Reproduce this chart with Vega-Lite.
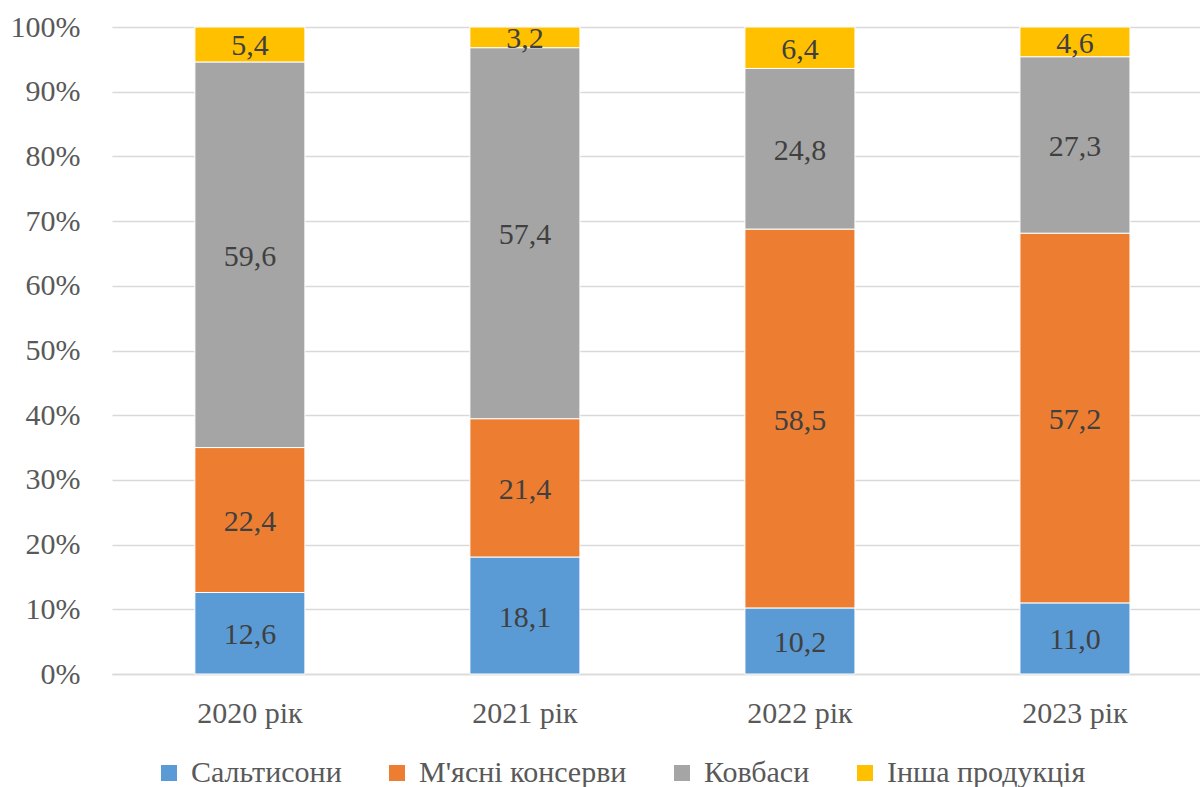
{
  "$schema": "https://vega.github.io/schema/vega-lite/v6.json",
  "autosize": "none",
  "width": 1088,
  "height": 647,
  "padding": {"left": 112, "top": 27, "right": 0, "bottom": 113},
  "background": "white",
  "config": {
    "locale": {"number": {"decimal": ",", "thousands": " ", "grouping": [3], "currency": ["", ""]}},
    "font": "'Liberation Serif', 'Times New Roman', 'DejaVu Serif', serif",
    "view": {"stroke": null},
    "axis": {"labelFont": "'Liberation Serif', 'Times New Roman', 'DejaVu Serif', serif", "labelColor": "#595959", "labelFontSize": 30, "ticks": false, "title": null, "labelOverlap": false}
  },
  "data": {
    "values": [
      {"year": "2020 рік", "series": "Сальтисони", "value": 12.6},
      {"year": "2020 рік", "series": "М'ясні консерви", "value": 22.4},
      {"year": "2020 рік", "series": "Ковбаси", "value": 59.6},
      {"year": "2020 рік", "series": "Інша продукція", "value": 5.4},
      {"year": "2021 рік", "series": "Сальтисони", "value": 18.1},
      {"year": "2021 рік", "series": "М'ясні консерви", "value": 21.4},
      {"year": "2021 рік", "series": "Ковбаси", "value": 57.4},
      {"year": "2021 рік", "series": "Інша продукція", "value": 3.2},
      {"year": "2022 рік", "series": "Сальтисони", "value": 10.2},
      {"year": "2022 рік", "series": "М'ясні консерви", "value": 58.5},
      {"year": "2022 рік", "series": "Ковбаси", "value": 24.8},
      {"year": "2022 рік", "series": "Інша продукція", "value": 6.4},
      {"year": "2023 рік", "series": "Сальтисони", "value": 11.0},
      {"year": "2023 рік", "series": "М'ясні консерви", "value": 57.2},
      {"year": "2023 рік", "series": "Ковбаси", "value": 27.3},
      {"year": "2023 рік", "series": "Інша продукція", "value": 4.6}
    ]
  },
  "encoding": {
    "x": {
      "field": "year", "type": "nominal", "sort": null,
      "scale": {"paddingInner": 0.6, "paddingOuter": 0.278, "align": 0.542},
      "axis": {"labelAngle": 0, "labelPadding": 24, "domain": true, "domainColor": "#d9d9d9", "domainWidth": 1.5, "grid": false}
    },
    "order": {"field": "series", "sort": "descending"}
  },
  "layer": [
    {
      "mark": {"type": "bar", "stroke": "white", "strokeWidth": 1},
      "encoding": {
        "y": {
          "field": "value", "type": "quantitative", "stack": "normalize",
          "scale": {"domain": [0, 1], "nice": false, "zero": true},
          "axis": {"format": ".0%", "values": [0, 0.1, 0.2, 0.3, 0.4, 0.5, 0.6, 0.7, 0.8, 0.9, 1], "domain": false, "grid": true, "gridColor": "#d9d9d9", "gridWidth": 1.5, "labelPadding": 32}
        },
        "color": {
          "field": "series", "type": "nominal",
          "scale": {
            "domain": ["Сальтисони", "М'ясні консерви", "Ковбаси", "Інша продукція"],
            "range": ["#5B9BD5", "#ED7D31", "#A5A5A5", "#FFC000"]
          },
          "legend": {
            "title": null, "orient": "none", "direction": "horizontal",
            "legendX": 42, "legendY": 731,
            "symbolType": "square", "symbolSize": 256, "symbolStrokeWidth": 0,
            "labelFont": "'Liberation Serif', 'Times New Roman', 'DejaVu Serif', serif", "labelFontSize": 30, "labelColor": "#595959",
            "labelOffset": 7, "columnPadding": 40, "padding": 0, "labelLimit": 400
          }
        }
      }
    },
    {
      "mark": {"type": "text", "font": "'Liberation Serif', 'Times New Roman', 'DejaVu Serif', serif", "fontSize": 30, "color": "#404040", "baseline": "middle", "dy": 2},
      "encoding": {
        "y": {"field": "value", "type": "quantitative", "stack": "normalize", "bandPosition": 0.5},
        "text": {"field": "value", "type": "quantitative", "format": ".1f"}
      }
    }
  ]
}
